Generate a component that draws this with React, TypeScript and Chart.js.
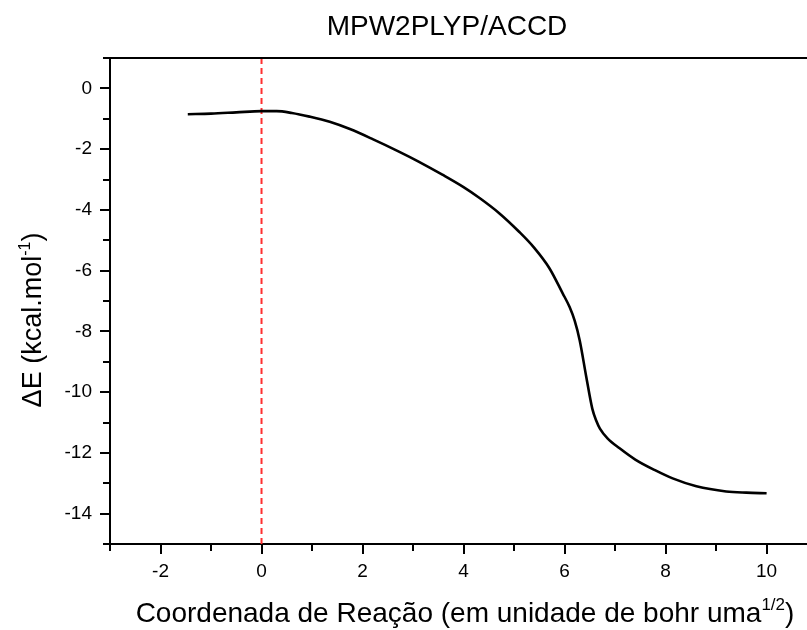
import React, { useEffect, useRef } from 'react';
import { Chart, registerables } from 'chart.js';

Chart.register(...registerables);

// Reaction coordinate (bohr amu^1/2) and relative energy (kcal/mol) along the IRC path
const reactionCoord = [
  -1.46, -1.0, -0.5, 0.0, 0.3, 0.6, 0.95, 1.35, 1.75, 2.2, 2.72, 3.1, 3.58, 4.0, 4.31,
  4.7, 5.1, 5.4, 5.7, 5.96, 6.1, 6.2, 6.3, 6.43, 6.55, 6.63, 6.7, 6.85, 7.09, 7.4, 7.79,
  8.14, 8.61, 9.2, 9.6, 10.0,
];
const deltaE = [
  -0.85, -0.83, -0.79, -0.75, -0.75, -0.81, -0.93, -1.1, -1.34, -1.67, -2.08, -2.4, -2.84, -3.25, -3.6,
  -4.1, -4.72, -5.25, -5.92, -6.74, -7.2, -7.65, -8.3, -9.5, -10.55, -10.95, -11.2, -11.52, -11.85, -12.22, -12.57,
  -12.84, -13.1, -13.27, -13.31, -13.33,
];

// Transition-state marker
const tsCoord = 0;

const titleText = 'MPW2PLYP/ACCD';
const xTitleParts = [
  { text: 'Coordenada de Reação (em unidade de bohr uma' },
  { text: '1/2', sup: true },
  { text: ')' },
];
const yTitleParts = [
  { text: 'ΔE (kcal.mol' },
  { text: '-1', sup: true },
  { text: ')' },
];

const X_MIN = -3;
const X_MAX = 10.8;
const Y_MIN = -15;
const Y_MAX = 1;

const FONT = '"Liberation Sans", Arial, Helvetica, sans-serif';

type Part = { text: string; sup?: boolean };

function richWidth(ctx: CanvasRenderingContext2D, parts: Part[], size: number) {
  let w = 0;
  for (const p of parts) {
    ctx.font = `${p.sup ? Math.round(size * 0.6) : size}px ${FONT}`;
    w += ctx.measureText(p.text).width;
  }
  return w;
}

function drawRich(ctx: CanvasRenderingContext2D, parts: Part[], x: number, y: number, size: number) {
  let cx = x;
  ctx.textAlign = 'left';
  ctx.textBaseline = 'alphabetic';
  for (const p of parts) {
    const s = p.sup ? Math.round(size * 0.6) : size;
    ctx.font = `${s}px ${FONT}`;
    ctx.fillText(p.text, cx, p.sup ? y - size * 0.42 : y);
    cx += ctx.measureText(p.text).width;
  }
}

// whole-number ticks between the scale limits
function integerTicks(scale: any) {
  const ticks = [];
  for (let v = Math.ceil(scale.min); v <= Math.floor(scale.max); v++) ticks.push({ value: v });
  scale.ticks = ticks;
}

const framePlugin = {
  id: 'frame',
  afterDraw(chart: any) {
    const ctx: CanvasRenderingContext2D = chart.ctx;
    const { left, right, top, bottom } = chart.chartArea;
    const xs = chart.scales.x;
    const ys = chart.scales.y;
    ctx.save();
    ctx.strokeStyle = '#000';
    ctx.fillStyle = '#000';
    ctx.lineWidth = 2;
    ctx.lineCap = 'butt';

    // top frame line
    ctx.beginPath();
    ctx.moveTo(left, top);
    ctx.lineTo(right, top);
    ctx.stroke();

    // outward ticks: long on even values, short on odd values
    ctx.beginPath();
    for (const t of xs.ticks) {
      const px = Math.round(xs.getPixelForValue(t.value));
      const len = t.value % 2 === 0 ? 10 : 7;
      ctx.moveTo(px, bottom);
      ctx.lineTo(px, bottom + len);
    }
    for (const t of ys.ticks) {
      const py = Math.round(ys.getPixelForValue(t.value));
      const len = t.value % 2 === 0 ? 10 : 7;
      ctx.moveTo(left, py);
      ctx.lineTo(left - len, py);
    }
    ctx.stroke();

    // chart title
    ctx.font = `28px ${FONT}`;
    ctx.textAlign = 'center';
    ctx.textBaseline = 'alphabetic';
    ctx.fillText(titleText, 447, 35);

    // x axis title
    const xw = richWidth(ctx, xTitleParts, 28);
    drawRich(ctx, xTitleParts, 465 - xw / 2, 622, 28);

    // y axis title, rotated
    const yw = richWidth(ctx, yTitleParts, 27);
    ctx.save();
    ctx.translate(41, 320);
    ctx.rotate(-Math.PI / 2);
    drawRich(ctx, yTitleParts, -yw / 2, 0, 27);
    ctx.restore();

    ctx.restore();
  },
};

export default function App() {
  const canvasRef = useRef<HTMLCanvasElement | null>(null);

  useEffect(() => {
    if (!canvasRef.current) return;
    const points = reactionCoord.map((x, i) => ({ x, y: deltaE[i] }));
    const chart = new Chart(canvasRef.current, {
      type: 'line',
      data: {
        datasets: [
          {
            data: points,
            borderColor: '#000',
            borderWidth: 2.6,
            pointRadius: 0,
            cubicInterpolationMode: 'monotone',
            fill: false,
          },
          {
            data: [
              { x: tsCoord, y: Y_MAX },
              { x: tsCoord, y: Y_MIN },
            ],
            borderColor: '#ff3030',
            borderWidth: 2,
            borderDash: [6, 4],
            pointRadius: 0,
            fill: false,
          },
        ],
      },
      options: {
        responsive: false,
        animation: false,
        events: [],
        layout: { padding: { top: 58, left: 50, right: 0, bottom: 46 } },
        plugins: {
          legend: { display: false },
          title: { display: false },
          tooltip: { enabled: false },
        },
        scales: {
          x: {
            type: 'linear',
            min: X_MIN,
            max: X_MAX,
            grid: { display: false, drawTicks: false },
            border: { display: true, color: '#000', width: 2 },
            afterBuildTicks: integerTicks,
            afterFit: (scale: any) => {
              scale.height = 40;
            },
            ticks: {
              autoSkip: false,
              maxRotation: 0,
              padding: 16,
              color: '#000',
              font: { family: FONT, size: 19 },
              callback: (v: any) => (Number(v) % 2 === 0 ? String(v) : ''),
            },
          },
          y: {
            type: 'linear',
            min: Y_MIN,
            max: Y_MAX,
            grid: { display: false, drawTicks: false },
            border: { display: true, color: '#000', width: 2 },
            afterBuildTicks: integerTicks,
            afterFit: (scale: any) => {
              scale.width = 60;
            },
            ticks: {
              autoSkip: false,
              padding: 18,
              color: '#000',
              font: { family: FONT, size: 19 },
              callback: (v: any) => (Number(v) % 2 === 0 ? String(v) : ''),
            },
          },
        },
      },
      plugins: [framePlugin],
    });
    return () => chart.destroy();
  }, []);

  return (
    <div style={{ position: 'fixed', left: 0, top: 0, width: 807, height: 630, background: '#fff' }}>
      <canvas ref={canvasRef} width={807} height={630} />
    </div>
  );
}
